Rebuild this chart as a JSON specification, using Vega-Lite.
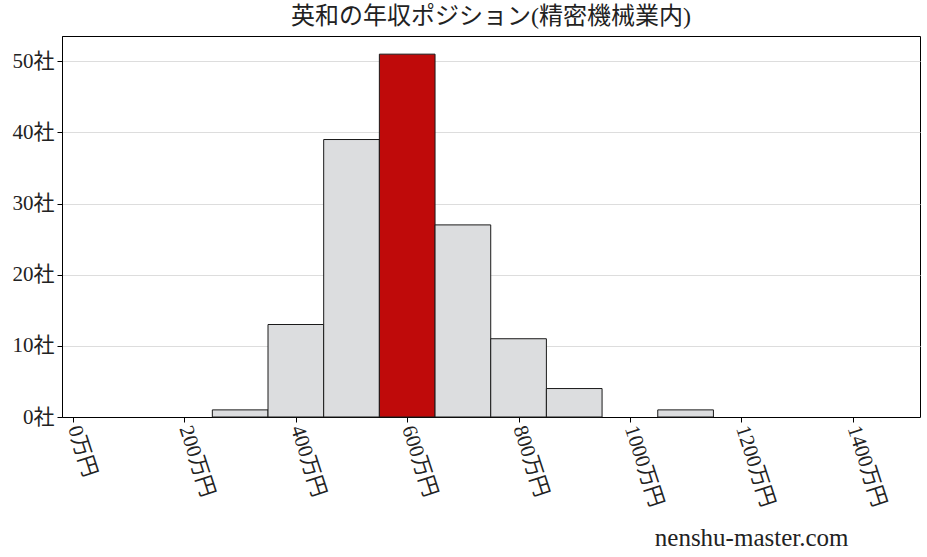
{
  "$schema": "https://vega.github.io/schema/vega-lite/v6.json",
  "autosize": {"type": "none"},
  "padding": {"left": 62, "top": 36, "right": 7, "bottom": 140},
  "width": 858,
  "height": 381,
  "background": "white",
  "title": {
    "text": "英和の年収ポジション(精密機械業内)",
    "font": "Liberation Serif, Noto Sans CJK JP",
    "fontSize": 24,
    "fontWeight": "normal",
    "color": "#222222",
    "anchor": "middle",
    "offset": 7
  },
  "config": {
    "view": {"stroke": "black", "strokeWidth": 1},
    "axis": {
      "labelFont": "Liberation Serif, Noto Sans CJK JP",
      "labelFontSize": 21,
      "labelColor": "#222222",
      "tickColor": "black",
      "domainColor": "black",
      "tickSize": 5
    }
  },
  "data": {
    "values": [
      {"start": 250, "end": 350, "count": 1, "mine": "no"},
      {"start": 350, "end": 450, "count": 13, "mine": "no"},
      {"start": 450, "end": 550, "count": 39, "mine": "no"},
      {"start": 550, "end": 650, "count": 51, "mine": "yes"},
      {"start": 650, "end": 750, "count": 27, "mine": "no"},
      {"start": 750, "end": 850, "count": 11, "mine": "no"},
      {"start": 850, "end": 950, "count": 4, "mine": "no"},
      {"start": 1050, "end": 1150, "count": 1, "mine": "no"}
    ]
  },
  "mark": {"type": "rect", "stroke": "#1a1a1a", "strokeWidth": 1},
  "encoding": {
    "x": {
      "field": "start",
      "type": "quantitative",
      "scale": {"domain": [-20, 1521], "nice": false, "zero": false},
      "axis": {
        "values": [0, 200, 400, 600, 800, 1000, 1200, 1400],
        "labelExpr": "datum.value + '万円'",
        "labelAngle": 72,
        "labelAlign": "left",
        "labelBaseline": "middle",
        "labelPadding": 4,
        "grid": false,
        "title": "nenshu-master.com",
        "titleFont": "Liberation Serif",
        "titleFontSize": 25,
        "titleFontWeight": "normal",
        "titleColor": "#222222",
        "titleAlign": "right",
        "titleAnchor": "start",
        "titleX": 786,
        "titleY": 128,
        "titleBaseline": "alphabetic"
      }
    },
    "x2": {"field": "end"},
    "y": {
      "field": "count",
      "type": "quantitative",
      "scale": {"domain": [0, 53.55], "nice": false},
      "axis": {
        "values": [0, 10, 20, 30, 40, 50],
        "labelExpr": "datum.value + '社'",
        "labelPadding": 3,
        "grid": true,
        "gridColor": "#dddddd",
        "gridWidth": 1,
        "title": null
      }
    },
    "y2": {"datum": 0},
    "fill": {
      "field": "mine",
      "type": "nominal",
      "scale": {"domain": ["no", "yes"], "range": ["#dcdddf", "#bf0a0a"]},
      "legend": null
    }
  }
}
